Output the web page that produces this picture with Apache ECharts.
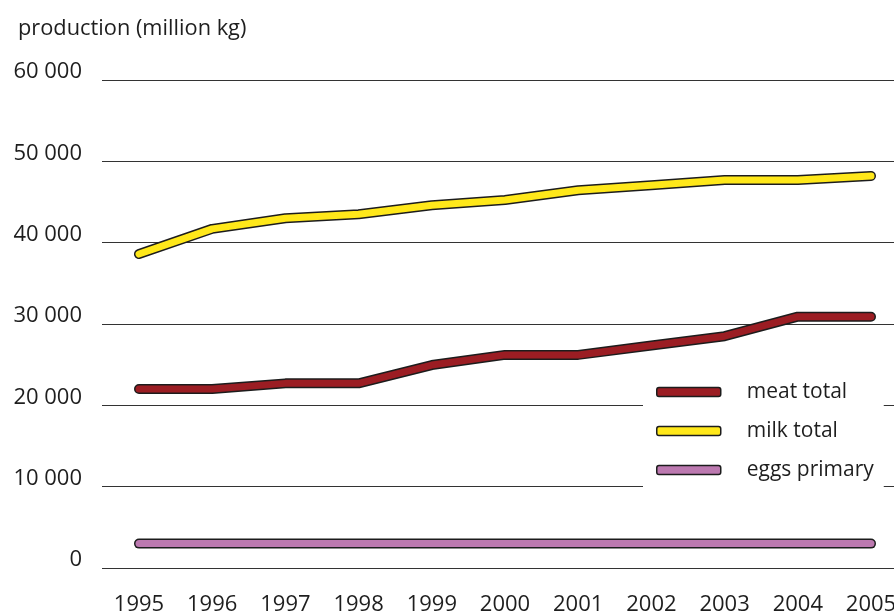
<!DOCTYPE html>
<html>
<head>
<meta charset="utf-8">
<script src="https://cdn.jsdelivr.net/npm/echarts@6/dist/echarts.min.js"></script>
<style>
  html, body { margin: 0; padding: 0; background: #ffffff; }
  #chart { width: 894px; height: 613px; }
</style>
</head>
<body>
<div id="chart"></div>
<script>
// Annual production, million kg
var years = ['1995', '1996', '1997', '1998', '1999', '2000', '2001', '2002', '2003', '2004', '2005'];
var meatTotal = [22000, 22000, 22700, 22700, 24950, 26200, 26200, 27350, 28500, 30900, 30900];
var milkTotal = [38600, 41700, 43000, 43500, 44600, 45250, 46450, 47050, 47700, 47700, 48200];
var eggsPrimary = [3000, 3000, 3000, 3000, 3000, 3000, 3000, 3000, 3000, 3000, 3000];
var seriesNames = ['meat total', 'milk total', 'eggs primary'];
var yTicks = { min: 0, max: 60000, step: 10000 };
var axisTitle = 'production (million kg)';

var FONT = '"Open Sans", "Noto Sans", sans-serif';
var TEXT = '#1e1e1e';
var OUTLINE = '#1c1c1c';
var fills = ['#9b1d23', '#ffe81a', '#bc79b0'];
var values = [meatTotal, milkTotal, eggsPrimary];

var chart = echarts.init(document.getElementById('chart'), null, { renderer: 'canvas' });

function fmt(v) {
  return String(v).replace(/\B(?=(\d{3})+(?!\d))/g, ' ');
}

var series = [];
// dark casing under each line
values.forEach(function (vals, i) {
  series.push({
    name: seriesNames[i] + ' casing',
    type: 'line',
    xAxisIndex: 0, yAxisIndex: 0,
    data: vals,
    symbol: 'none',
    silent: true,
    z: 2,
    lineStyle: { color: OUTLINE, width: 10, cap: 'round', join: 'round' }
  });
});
// coloured core of each line
values.forEach(function (vals, i) {
  series.push({
    name: seriesNames[i],
    type: 'line',
    xAxisIndex: 0, yAxisIndex: 0,
    data: vals,
    symbol: 'none',
    silent: true,
    z: 3,
    color: fills[i],
    lineStyle: { color: fills[i], width: 7, cap: 'round', join: 'round' }
  });
});

chart.setOption({
  animation: false,
  backgroundColor: '#ffffff',
  textStyle: { fontFamily: FONT },
  graphic: [{
    type: 'text',
    left: 18,
    top: 18,
    style: { text: axisTitle, font: '21.8px ' + FONT, fill: TEXT }
  }],
  legend: {
    orient: 'vertical',
    left: 643,
    top: 372,
    padding: [9, 10, 12, 13],
    backgroundColor: '#ffffff',
    itemWidth: 64,
    itemHeight: 9,
    itemGap: 17,
    icon: 'roundRect',
    selectedMode: false,
    z: 10,
    data: seriesNames.map(function (n, i) {
      return { name: n, itemStyle: { color: fills[i], borderColor: OUTLINE, borderWidth: 1.5 } };
    }),
    textStyle: {
      fontFamily: FONT, fontSize: 21, color: TEXT, lineHeight: 22,
      padding: [0, 0, 0, 21]
    }
  },
  grid: [
    { left: 139, right: 23, top: 80, bottom: 45, containLabel: false, outerBoundsMode: 'none' },
    { left: 102, right: 0, top: 80, bottom: 45, containLabel: false, outerBoundsMode: 'none' }
  ],
  xAxis: [{
    gridIndex: 0,
    type: 'category',
    data: years,
    boundaryGap: false,
    axisLine: { show: false },
    axisTick: { show: false },
    splitLine: { show: false },
    axisLabel: { color: TEXT, fontFamily: FONT, fontSize: 22, margin: 26 }
  }, {
    gridIndex: 1,
    type: 'value',
    min: 0, max: 1,
    show: false
  }],
  yAxis: [{
    gridIndex: 0,
    type: 'value',
    min: yTicks.min, max: yTicks.max, interval: yTicks.step,
    show: false
  }, {
    gridIndex: 1,
    type: 'value',
    min: yTicks.min, max: yTicks.max, interval: yTicks.step,
    axisLine: { show: false },
    axisTick: { show: false },
    splitLine: { show: true, lineStyle: { color: '#333333', width: 1.2 } },
    axisLabel: {
      color: TEXT, fontFamily: FONT, fontSize: 22, margin: 20,
      verticalAlign: 'bottom', lineHeight: 16,
      formatter: fmt
    }
  }],
  series: series
});
</script>
</body>
</html>
